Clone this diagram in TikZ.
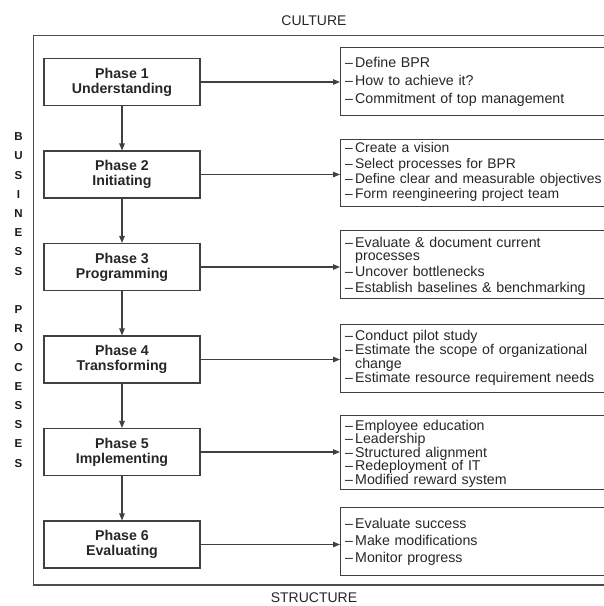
\documentclass[tikz,border=0pt]{standalone}
\usepackage{fontspec}
\setmainfont{Liberation Sans}
\usetikzlibrary{arrows.meta}
% a bulleted line starts with a dash; a continued line is indented to match
\newcommand\dashitem{\makebox[10pt][l]{–}}
\newcommand\contitem{\hspace*{10pt}}
\begin{document}
\lineskiplimit=-20pt\relax
\begin{tikzpicture}[x=1pt,y=-1pt,
  inkline/.style={draw=black!75, line width=1.1pt},
  frameline/.style={draw=black!70, line width=1.5pt},
  phasebox/.style={inkline, minimum width=156pt, minimum height=47pt, inner sep=0pt,
    align=center, text=black!85, font=\bfseries\fontsize{14.2}{15}\selectfont},
  listbox/.style={inkline, anchor=north west, minimum width=300pt, inner sep=0pt},
  listtext/.style={anchor=base west, inner sep=0pt, text width=300pt, align=left,
    text=black!85},
  flow/.style={inkline, -{Triangle[length=7pt,width=5.5pt]}},
  caption/.style={text=black!85, font=\fontsize{14}{16}\selectfont},
  sideword/.style={text=black!90, align=center, inner sep=0pt,
    font=\bfseries\fontsize{11.5}{19.2}\selectfont}
]
\useasboundingbox (0,0) rectangle (604,606);
\clip (0,0) rectangle (604,606);

% outer frame and its captions
\node[frameline, anchor=north west, minimum width=640pt, minimum height=549.5pt,
  inner sep=0pt] (frame) at (32.5,34.5) {};
\node[caption] (culture) at (314,21) {CULTURE};
\node[caption] (structure) at (314,598) {STRUCTURE};
\node[sideword] (bp) at (18.5,300)
  {B\\U\\S\\I\\N\\E\\S\\S\\[19.2pt]P\\R\\O\\C\\E\\S\\S\\E\\S};

% the six phases
\node[phasebox] (p1) at (122,82)    {Phase 1\\Understanding};
\node[phasebox] (p2) at (122,174.5) {Phase 2\\Initiating};
\node[phasebox] (p3) at (122,267)   {Phase 3\\Programming};
\node[phasebox] (p4) at (122,359.5) {Phase 4\\Transforming};
\node[phasebox] (p5) at (122,452)   {Phase 5\\Implementing};
\node[phasebox] (p6) at (122,544.5) {Phase 6\\Evaluating};

% activity boxes
\node[listbox, minimum height=68pt] (r1) at (340,47)  {};
\node[listbox, minimum height=67pt] (r2) at (340,139) {};
\node[listbox, minimum height=68pt] (r3) at (340,230) {};
\node[listbox, minimum height=68pt] (r4) at (340,324) {};
\node[listbox, minimum height=74pt] (r5) at (340,415) {};
\node[listbox, minimum height=68pt] (r6) at (340,507) {};

\node[listtext, font=\fontsize{14.2}{18.2}\selectfont] (t1) at (345,67.3)
  {\dashitem Define BPR\\\dashitem How to achieve it?\\\dashitem Commitment of top management};
\node[listtext, font=\fontsize{13.9}{15.4}\selectfont] (t2) at (345,152.7)
  {\dashitem Create a vision\\\dashitem Select processes for BPR\\
   \dashitem Define clear and measurable objectives\\\dashitem Form reengineering project team};
\node[listtext, font=\fontsize{14.2}{16}\selectfont] (t3) at (345,247.5)
  {\dashitem Evaluate \& document current\\[-3pt]\contitem processes\\
   \dashitem Uncover bottlenecks\\\dashitem Establish baselines \& benchmarking};
\node[listtext, font=\fontsize{14.2}{14.2}\selectfont] (t4) at (345,340)
  {\dashitem Conduct pilot study\\\dashitem Estimate the scope of organizational\\
   \contitem change\\\dashitem Estimate resource requirement needs};
\node[listtext, font=\fontsize{14.2}{13.5}\selectfont] (t5) at (345,430)
  {\dashitem Employee education\\\dashitem Leadership\\\dashitem Structured alignment\\
   \dashitem Redeployment of IT\\\dashitem Modified reward system};
\node[listtext, font=\fontsize{14.2}{17}\selectfont] (t6) at (345,528)
  {\dashitem Evaluate success\\\dashitem Make modifications\\\dashitem Monitor progress};

% flow between phases
\draw[flow] (p1) -- (p2);
\draw[flow] (p2) -- (p3);
\draw[flow] (p3) -- (p4);
\draw[flow] (p4) -- (p5);
\draw[flow] (p5) -- (p6);

% each phase points to its activities
\foreach \i in {1,...,6}
  \draw[flow] (p\i.east) -- (p\i.east -| r\i.west);
\end{tikzpicture}
\end{document}
